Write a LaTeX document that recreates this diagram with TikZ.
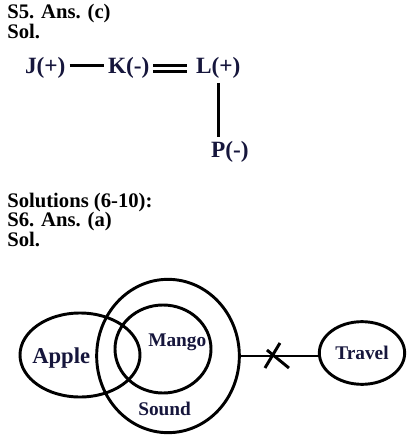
\documentclass[tikz,border=0pt]{standalone}
\usepackage{fontspec}
\setmainfont{Liberation Serif}
\usetikzlibrary{shapes.geometric, positioning}

\definecolor{inkblue}{RGB}{22,22,60}

\begin{document}
\begin{tikzpicture}[x=0.75pt, y=-0.75pt,
    heading/.style={anchor=base west, inner sep=0pt, font=\bfseries\fontsize{15.5}{18}\selectfont},
    ion/.style={anchor=base west, inner sep=0pt, outer sep=3pt, text=inkblue, font=\bfseries\fontsize{17.5}{20}\selectfont},
    bond/.style={line width=2.2pt},
    ring/.style={draw, ellipse, line width=2.2pt, inner sep=0pt},
    setname/.style={anchor=base west, inner sep=0pt, text=inkblue, font=\bfseries\fontsize{14.5}{18}\selectfont}]
    \useasboundingbox (0,0) rectangle (419,445);

    % Question 5
    \node[heading] (ans5) at (7,19) {S5. Ans. (c)};
    \node[heading] (sol5) at (7,39) {Sol.};

    \node[ion] (J) at (21,74) {J(+)};
    \node[ion] (K) at (104,74) {K(-)};
    \node[ion] (L) at (192,74) {L(+)};
    \node[ion] (P) at (207,157) {P(-)};

    \draw[bond] ([yshift=2.5pt]J.east) -- ([yshift=2.5pt]K.west);
    \draw[line width=1.9pt, double, double distance=2.6pt, shorten >=4pt] (K.east) -- (L.west);
    \draw[bond] (L.south) -- (L.south |- P.north);

    % Questions 6-10
    \node[heading] (sols) at (7,207) {Solutions (6-10):};
    \node[heading] (ans6) at (7,226) {S6. Ans. (a)};
    \node[heading] (sol6) at (7,246) {Sol.};

    \node[ring, minimum width=90pt, minimum height=63pt] (apple) at (80,355) {};
    \node[ring, minimum width=107pt, minimum height=115pt] (sound) at (168,356) {};
    \node[ring, minimum width=72pt, minimum height=66pt] (mango) at (163,349) {};
    \node[ring, minimum width=64pt, minimum height=47pt, text=inkblue,
          font=\bfseries\fontsize{14.5}{17}\selectfont] (travel) at (362,353) {Travel};

    \node[setname, font=\bfseries\fontsize{17}{20}\selectfont] (applename) at (32,363) {Apple};
    \node[setname] (mangoname) at (148,346) {Mango};
    \node[setname] (soundname) at (138,415) {Sound};

    % broken link between Sound and Travel
    \draw[bond] (sound.east) -- coordinate[pos=0.43] (cut) (sound.east -| travel.west);
    \draw[bond] ([shift={(-9,12)}]cut) -- ([shift={(6,-13)}]cut);
    \draw[bond] ([shift={(-7,-6)}]cut) -- ([shift={(15,12)}]cut);
\end{tikzpicture}
\end{document}
